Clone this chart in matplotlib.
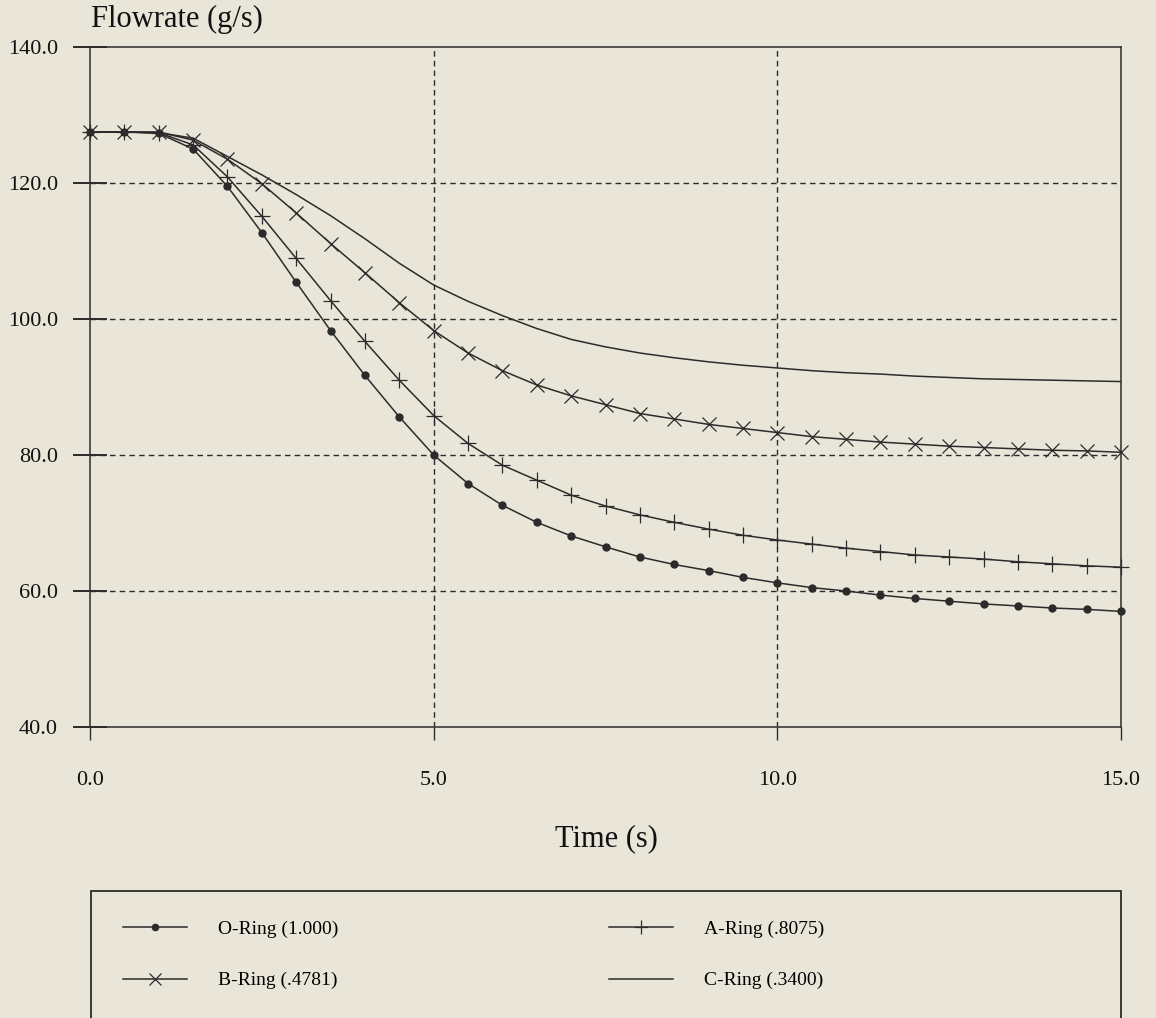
import matplotlib
matplotlib.use("Agg")
import matplotlib.pyplot as plt
from matplotlib.patches import Rectangle

plt.rcParams['font.family'] = ['Liberation Serif', 'DejaVu Serif']

# time (s), sampled every 0.5 s
time = [0.0, 0.5, 1.0, 1.5, 2.0, 2.5, 3.0, 3.5, 4.0, 4.5, 5.0, 5.5, 6.0, 6.5, 7.0, 7.5,
        8.0, 8.5, 9.0, 9.5, 10.0, 10.5, 11.0, 11.5, 12.0, 12.5, 13.0, 13.5, 14.0, 14.5, 15.0]

# flowrate (g/s)
o_ring = [127.5, 127.5, 127.3, 125.0, 119.5, 112.7, 105.4, 98.3, 91.7, 85.6, 80.0, 75.8,
          72.6, 70.1, 68.1, 66.5, 65.0, 63.9, 63.0, 62.0, 61.2, 60.5, 60.0, 59.4, 58.9,
          58.5, 58.1, 57.8, 57.5, 57.3, 57.0]
a_ring = [127.5, 127.5, 127.4, 125.6, 120.9, 115.1, 108.9, 102.7, 96.7, 91.0, 85.8, 81.7,
          78.5, 76.3, 74.1, 72.5, 71.2, 70.1, 69.1, 68.2, 67.5, 66.9, 66.3, 65.8, 65.3,
          65.0, 64.7, 64.3, 64.0, 63.7, 63.5]
b_ring = [127.5, 127.5, 127.5, 126.3, 123.5, 119.9, 115.6, 111.1, 106.8, 102.4, 98.3, 95.0,
          92.4, 90.3, 88.7, 87.4, 86.1, 85.3, 84.5, 83.9, 83.3, 82.7, 82.3, 81.9, 81.6,
          81.3, 81.1, 80.9, 80.7, 80.6, 80.4]
c_ring = [127.5, 127.5, 127.4, 126.6, 123.9, 121.2, 118.3, 115.2, 111.8, 108.2, 105.0, 102.6,
          100.5, 98.6, 97.0, 95.9, 95.0, 94.3, 93.7, 93.2, 92.8, 92.4, 92.1, 91.9, 91.6,
          91.4, 91.2, 91.1, 91.0, 90.9, 90.8]

labels = ['O-Ring (1.000)', 'A-Ring (.8075)', 'B-Ring (.4781)', 'C-Ring (.3400)']
x_ticks = [0, 5, 10, 15]
y_ticks = [40, 60, 80, 100, 120, 140]

bg = '#e9e6d9'
ink = '#2b2b2b'
W, H = 1156, 1018

fig = plt.figure(figsize=(W / 100, H / 100), dpi=100, facecolor=bg)
ax = fig.add_axes([90 / W, 1 - 727 / H, (1121 - 90) / W, (727 - 47) / H])
ax.set_facecolor(bg)

l_o, = ax.plot(time, o_ring, color=ink, lw=1.1, marker='o', ms=5, mfc=ink, mec=ink,
               clip_on=False)
l_a, = ax.plot(time, a_ring, color=ink, lw=1.1, marker='+', ms=11, mew=0.9, clip_on=False)
l_b, = ax.plot(time, b_ring, color=ink, lw=1.1, marker='x', ms=9.5, mew=0.9, clip_on=False)
l_c, = ax.plot(time, c_ring, color=ink, lw=1.1)

ax.set_xlim(0, 15)
ax.set_ylim(40, 140)
ax.set_xticks(x_ticks)
ax.set_xticklabels(['%.1f' % v for v in x_ticks])
ax.set_yticks(y_ticks)
ax.set_yticklabels(['%.1f' % v for v in y_ticks])

for s in ax.spines.values():
    s.set_color(ink)
    s.set_linewidth(1.1)

ax.tick_params(axis='y', direction='inout', length=24, width=1.4, color=ink,
               labelsize=16, pad=11, labelcolor='#111111')
ax.tick_params(axis='x', direction='out', length=9, width=1.0, color=ink,
               labelsize=16, pad=23, labelcolor='#111111')

for v in [5, 10]:
    ax.axvline(v, color=ink, lw=1.0, ls=(0, (4, 3)), zorder=0.5)
for v in [60, 80, 100, 120]:
    ax.axhline(v, color=ink, lw=1.0, ls=(0, (4, 3)), zorder=0.5)

fig.text(91 / W, 1 - 27 / H, 'Flowrate (g/s)', fontsize=22, ha='left', va='baseline',
         color='#111111')
fig.text(606 / W, 1 - 846 / H, 'Time (s)', fontsize=22, ha='center', va='baseline',
         color='#111111')

# legend box (bottom edge runs off the page)
fig.add_artist(Rectangle((91 / W, -0.05), (1121 - 91) / W, 0.05 + 1 - 891 / H,
                         transform=fig.transFigure, fill=False, ec=ink, lw=1.3))

fig.legend([l_o, l_b, l_a, l_c], [labels[0], labels[2], labels[1], labels[3]],
           ncol=2, loc='upper left', bbox_to_anchor=(123 / W, 1 - 920 / H),
           frameon=False, fontsize=14, borderpad=0, borderaxespad=0,
           handlelength=3.3, handletextpad=1.6, columnspacing=13.9,
           labelspacing=1.75, markerscale=0.9)

fig.savefig('out.png', dpi=100, facecolor=bg)
